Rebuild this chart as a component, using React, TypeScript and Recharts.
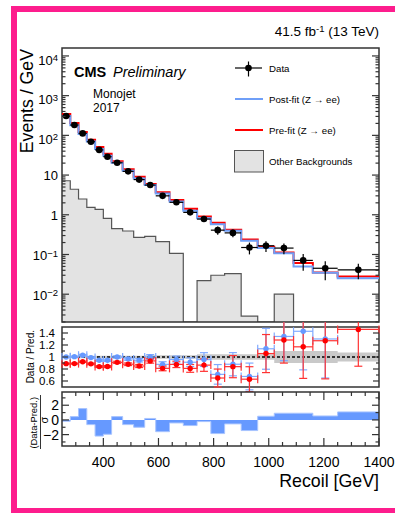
import React from 'react';
import {
  ComposedChart, Line, Area, Scatter, ErrorBar, XAxis, YAxis, ReferenceLine, ReferenceArea,
} from 'recharts';

// ---------------- data ----------------
const binEdges = [250, 280, 310, 340, 370, 400, 430, 470, 510, 550, 590, 640, 690, 740, 790, 840, 900, 960, 1020, 1090, 1160, 1250, 1400];
const dataYield = [306, 182, 112, 69, 43, 29, 20.4, 12.4, 7.7, 5.6, 3.0, 2.06, 1.15, 0.78, 0.41, 0.35, 0.15, 0.166, 0.145, 0.071, 0.045, 0.041];
const dataRelErr = [0.008, 0.01, 0.012, 0.015, 0.018, 0.02, 0.02, 0.025, 0.03, 0.04, 0.05, 0.06, 0.08, 0.12, 0.23, 0.22, 0.33, 0.3, 0.3, 0.45, 0.5, 0.42];
const postFitYield = [306, 181, 108.7, 69.7, 45.5, 30.7, 20.4, 12.8, 8.14, 5.6, 3.42, 2.15, 1.26, 0.815, 0.577, 0.398, 0.222, 0.146, 0.108, 0.0497, 0.0346, 0.0253];
const preFitYield = [344, 204.5, 121.7, 77.9, 51.2, 34.5, 22.4, 14.1, 9.06, 5.99, 3.7, 2.35, 1.42, 0.902, 0.631, 0.417, 0.238, 0.157, 0.113, 0.0607, 0.0354, 0.0281];
const otherBkgYield = [7.2, 4.4, 2.5, 1.53, 1.37, 0.81, 0.45, 0.39, 0.27, 0.285, 0.21, 0.107, 0, 0.022, 0.03, 0.033, 0.0028, 0, 0.01, 0, 0, 0];
const pullValues = [-0.18, 0.45, 1.54, -0.64, -2.2, -1.95, 0.45, -0.64, -1.0, 0.2, -1.6, -0.41, -0.77, -0.23, -1.86, -0.54, -1.45, 0.5, 0.91, 0.91, 0.54, 1.09];
const ratioBandHalfWidth = [0.02, 0.02, 0.02, 0.02, 0.02, 0.02, 0.02, 0.02, 0.02, 0.03, 0.03, 0.03, 0.03, 0.045, 0.045, 0.045, 0.045, 0.045, 0.1, 0.1, 0.1, 0.075];

const xMajorTicks = [400, 600, 800, 1000, 1200, 1400];
const xMinorTicks = [300, 350, 450, 500, 550, 650, 700, 750, 850, 900, 950, 1050, 1100, 1150, 1250, 1300, 1350];
const mainYMajorTicks = [0.01, 0.1, 1, 10, 100, 1000, 10000];
const mainYMajorLabels = [['10', '\u22122'], ['10', '\u22121'], ['1', ''], ['10', ''], ['10', '2'], ['10', '3'], ['10', '4']];
const ratioYMajorTicks = [0.6, 0.8, 1, 1.2, 1.4];
const ratioYMajorLabels = ['0.6', '0.8', '1', '1.2', '1.4'];
const ratioYMinorTicks = [0.7, 0.9, 1.1, 1.3];
const pullYMajorTicks = [-2, 0, 2];
const pullYMajorLabels = ['\u22122', '0', '2'];
const pullYMinorTicks = [-3, -1, 1, 3];

// ---------------- layout constants ----------------
const FONT = '"Liberation Sans", Arial, Helvetica, sans-serif';
const W = 395;
const PL = 62;
const PR = 379;
const XMIN = 250;
const XMAX = 1400;
const YMIN = Math.pow(10, -2.7);
const YMAX = Math.pow(10, 4.2);
const RMIN = 0.5;
const RMAX = 1.5;
const PMIN = -3.55;
const PMAX = 3.8;
const AX = '#333';
const BLUE = '#6f9ff8';
const RED = '#ff0000';

const xTicks = [...xMajorTicks, ...xMinorTicks].sort((a, b) => a - b);
const mainYMinorTicks: number[] = [];
[0.001, 0.01, 0.1, 1, 10, 100, 1000].forEach((d) => {
  [2, 3, 4, 5, 6, 7, 8, 9].forEach((m) => {
    const v = d * m;
    if (v >= YMIN && v <= YMAX) mainYMinorTicks.push(v);
  });
});
const mainYTicks = [...mainYMajorTicks, ...mainYMinorTicks];

// ---------------- derived tables ----------------
const stepTable = (vals: number[], floor?: number) =>
  binEdges.map((e, i) => {
    const v = vals[Math.min(i, vals.length - 1)];
    return { x: e, y: floor !== undefined && v <= 0 ? floor : v };
  });

const otherTable = stepTable(otherBkgYield, YMIN);
const postTable = stepTable(postFitYield);
const preTable = stepTable(preFitYield);
const pullTable = stepTable(pullValues);
const bandTable = binEdges.map((e, i) => {
  const h = ratioBandHalfWidth[Math.min(i, ratioBandHalfWidth.length - 1)];
  return { x: e, y: [1 - h, 1 + h] };
});

const center = (i: number) => (binEdges[i] + binEdges[i + 1]) / 2;
const halfW = (i: number) => (binEdges[i + 1] - binEdges[i]) / 2;

const dataPoints = dataYield.map((v, i) => ({ x: center(i), y: v, ex: halfW(i), ey: v * dataRelErr[i] }));
const ratioPoints = (pred: number[]) =>
  dataYield
    .map((v, i) => {
      const r = v / pred[i];
      return { x: center(i), y: r, ex: halfW(i), ey: r * dataRelErr[i] };
    })
    .filter((p) => p.y >= RMIN && p.y <= RMAX);
const bluePoints = ratioPoints(postFitYield);
const redPoints = ratioPoints(preFitYield);

// ---------------- tick renderers ----------------
const makeXTick = (top: number, bottom: number, majLen: number, minLen: number, withLabel: boolean) => (props: any) => {
  const { x, payload } = props;
  const v = payload.value;
  const major = xMajorTicks.includes(v);
  const len = major ? majLen : minLen;
  return (
    <g>
      <line x1={x} x2={x} y1={bottom} y2={bottom - len} stroke={AX} strokeWidth={1.2} />
      <line x1={x} x2={x} y1={top} y2={top + len} stroke={AX} strokeWidth={1.2} />
      {withLabel && major ? (
        <text x={x} y={bottom + 21} textAnchor="middle" fontSize={14} fill="#000" fontFamily={FONT}>{v}</text>
      ) : null}
    </g>
  );
};

const mainYTick = (props: any) => {
  const { y, payload } = props;
  const v = payload.value;
  const idx = mainYMajorTicks.indexOf(v);
  const major = idx >= 0;
  const len = major ? 7 : 3.5;
  let label = null;
  if (major) {
    const [base, exp] = mainYMajorLabels[idx];
    const off = exp === '' ? 5 : exp.startsWith('\u2212') ? 6 : 8.8;
    label = (
      <text x={58} y={y + off} textAnchor="end" fontSize={13} fill="#000" fontFamily={FONT}>
        {base}
        {exp ? <tspan dy={-3.8} fontSize={9.5}>{exp}</tspan> : null}
      </text>
    );
  }
  return (
    <g>
      <line x1={PL} x2={PL + len} y1={y} y2={y} stroke={AX} strokeWidth={1.2} />
      <line x1={PR - len} x2={PR} y1={y} y2={y} stroke={AX} strokeWidth={1.2} />
      {label}
    </g>
  );
};

const makeLinYTick = (majors: number[], labels: string[], labelRight: number, fontSize: number, majLen: number, minLen: number) => (props: any) => {
  const { y, payload } = props;
  const v = payload.value;
  const idx = majors.indexOf(v);
  const major = idx >= 0;
  const len = major ? majLen : minLen;
  return (
    <g>
      <line x1={PL} x2={PL + len} y1={y} y2={y} stroke={AX} strokeWidth={1.2} />
      <line x1={PR - len} x2={PR} y1={y} y2={y} stroke={AX} strokeWidth={1.2} />
      {major ? (
        <text x={labelRight} y={y + fontSize * 0.36} textAnchor="end" fontSize={fontSize} fill="#000" fontFamily={FONT}>{labels[idx]}</text>
      ) : null}
    </g>
  );
};

const dot = (r: number, color: string) => (p: any) => (
  <circle cx={p.cx} cy={p.cy} r={r} fill={color} stroke="none" />
);

// ---------------- panels ----------------
function MainPanel() {
  return (
    <ComposedChart width={W} height={330} margin={{ top: 48, right: W - PR, bottom: 8, left: 0 }}>
      <XAxis type="number" dataKey="x" domain={[XMIN, XMAX]} allowDataOverflow ticks={xTicks} interval={0}
        height={0} axisLine={false} tickLine={false} tickSize={0} tick={makeXTick(48, 322, 10, 5, false)} />
      <YAxis type="number" dataKey="y" scale="log" domain={[YMIN, YMAX]} allowDataOverflow ticks={mainYTicks}
        interval={0} width={PL} axisLine={false} tickLine={false} tickSize={0} tick={mainYTick} />
      <Area data={otherTable} dataKey="y" type="stepAfter" baseValue={YMIN} fill="#e3e3e3" fillOpacity={1}
        stroke="#555" strokeWidth={1.2} isAnimationActive={false} />
      <Line data={preTable} dataKey="y" type="stepAfter" stroke={RED} strokeWidth={2} dot={false} isAnimationActive={false} />
      <Line data={postTable} dataKey="y" type="stepAfter" stroke={BLUE} strokeWidth={2} dot={false} isAnimationActive={false} />
      <Scatter data={dataPoints} dataKey="y" fill="#000" shape={dot(3.3, '#000')} isAnimationActive={false}>
        <ErrorBar dataKey="ey" direction="y" width={0} stroke="#000" strokeWidth={1.2} />
        <ErrorBar dataKey="ex" direction="x" width={0} stroke="#000" strokeWidth={1.2} />
      </Scatter>
      <ReferenceArea x1={XMIN} x2={XMAX} y1={YMIN} y2={YMAX} fill="none" fillOpacity={0} stroke={AX} strokeWidth={1.5} ifOverflow="visible" />
    </ComposedChart>
  );
}

function RatioPanel() {
  return (
    <ComposedChart width={W} height={70} margin={{ top: 5, right: W - PR, bottom: 5, left: 0 }}>
      <XAxis type="number" dataKey="x" domain={[XMIN, XMAX]} allowDataOverflow ticks={xTicks} interval={0}
        height={0} axisLine={false} tickLine={false} tickSize={0} tick={makeXTick(5, 65, 7, 3.5, false)} />
      <YAxis type="number" dataKey="y" domain={[RMIN, RMAX]} allowDataOverflow ticks={[...ratioYMajorTicks, ...ratioYMinorTicks]}
        interval={0} width={PL} axisLine={false} tickLine={false} tickSize={0}
        tick={makeLinYTick(ratioYMajorTicks, ratioYMajorLabels, 55, 11.5, 6, 3)} />
      <Area data={bandTable} dataKey="y" type="stepAfter" fill="#c9c9c9" fillOpacity={1} stroke="none" isAnimationActive={false} />
      <ReferenceLine y={1} stroke="#333" strokeDasharray="3 2" strokeWidth={2} />
      <Scatter data={bluePoints} dataKey="y" fill={BLUE} shape={dot(2.7, '#6699ff')} isAnimationActive={false}>
        <ErrorBar dataKey="ey" direction="y" width={4} stroke="#80aaff" strokeWidth={1.2} />
        <ErrorBar dataKey="ex" direction="x" width={4} stroke="#80aaff" strokeWidth={1.2} />
      </Scatter>
      <Scatter data={redPoints} dataKey="y" fill={RED} shape={dot(2.7, RED)} isAnimationActive={false}>
        <ErrorBar dataKey="ey" direction="y" width={4} stroke="#ff3333" strokeWidth={1.2} />
        <ErrorBar dataKey="ex" direction="x" width={4} stroke="#ff3333" strokeWidth={1.2} />
      </Scatter>
      <ReferenceArea x1={XMIN} x2={XMAX} y1={RMIN} y2={RMAX} fill="none" fillOpacity={0} stroke={AX} strokeWidth={1.5} ifOverflow="visible" />
    </ComposedChart>
  );
}

function PullPanel() {
  return (
    <ComposedChart width={W} height={125} margin={{ top: 4, right: W - PR, bottom: 37, left: 0 }}>
      <XAxis type="number" dataKey="x" domain={[XMIN, XMAX]} allowDataOverflow ticks={xTicks} interval={0}
        height={30} axisLine={false} tickLine={false} tickSize={0} tick={makeXTick(4, 58, 8, 4, true)} />
      <YAxis type="number" dataKey="y" domain={[PMIN, PMAX]} allowDataOverflow ticks={[...pullYMajorTicks, ...pullYMinorTicks]}
        interval={0} width={PL} axisLine={false} tickLine={false} tickSize={0}
        tick={makeLinYTick(pullYMajorTicks, pullYMajorLabels, 59, 14, 7, 3.5)} />
      <Area data={pullTable} dataKey="y" type="stepAfter" baseValue={0} fill="#6699ff" fillOpacity={1}
        stroke="#a8c4ff" strokeWidth={1} isAnimationActive={false} />
      <ReferenceArea x1={XMIN} x2={XMAX} y1={PMIN} y2={PMAX} fill="none" fillOpacity={0} stroke={AX} strokeWidth={1.5} ifOverflow="visible" />
    </ComposedChart>
  );
}

function Overlay() {
  const t = { fontFamily: FONT, fill: '#000' } as const;
  return (
    <svg width={W} height={513} style={{ position: 'absolute', left: 0, top: 0, pointerEvents: 'none' }}>
      {/* luminosity */}
      <text x={379} y={36} textAnchor="end" fontSize={13.5} {...t}>
        41.5 fb<tspan dy={-4.5} fontSize={9.5}>-1</tspan><tspan dy={4.5}> (13 TeV)</tspan>
      </text>
      <text x={74} y={77} fontSize={14.5} fontWeight="bold" {...t}>CMS</text>
      <text x={113} y={77} fontSize={14.5} fontStyle="italic" {...t}>Preliminary</text>
      <text x={93} y={97.5} fontSize={12} {...t}>Monojet</text>
      <text x={93} y={112} fontSize={12} {...t}>2017</text>
      {/* axis titles */}
      <text transform="translate(33,49) rotate(-90)" textAnchor="end" fontSize={17.7} {...t}>Events / GeV</text>
      <text transform="translate(33.5,330) rotate(-90)" textAnchor="end" fontSize={10} {...t}>Data / Pred.</text>
      <text transform="translate(37,397) rotate(-90)" textAnchor="end" fontSize={9.4} {...t}>(Data-Pred.)</text>
      <line x1={40.5} x2={40.5} y1={395} y2={449} stroke="#000" strokeWidth={0.8} />
      <text transform="translate(47.5,420) rotate(-90)" textAnchor="middle" fontSize={11} {...t}>σ</text>
      <text x={379} y={487} textAnchor="end" fontSize={17.8} {...t}>Recoil [GeV]</text>
      {/* legend */}
      <line x1={235} x2={262} y1={68} y2={68} stroke="#000" strokeWidth={1.2} />
      <line x1={248.5} x2={248.5} y1={61.5} y2={76.5} stroke="#000" strokeWidth={1.2} />
      <circle cx={248.5} cy={68} r={3.3} fill="#000" />
      <text x={269} y={71.5} fontSize={9.7} {...t}>Data</text>
      <line x1={235} x2={263} y1={99} y2={99} stroke={BLUE} strokeWidth={2} />
      <text x={269} y={102.5} fontSize={9.7} {...t}>Post-fit (Z → ee)</text>
      <line x1={235} x2={263} y1={130} y2={130} stroke={RED} strokeWidth={2} />
      <text x={269} y={133.5} fontSize={9.7} {...t}>Pre-fit (Z → ee)</text>
      <rect x={234.5} y={150.5} width={29} height={21.5} fill="#e3e3e3" stroke="#555" strokeWidth={1} />
      <text x={269} y={164.5} fontSize={9.7} {...t}>Other Backgrounds</text>
    </svg>
  );
}

export default function App() {
  return (
    <div style={{ position: 'absolute', left: 0, top: 0, width: W, height: 513, overflow: 'hidden', background: '#fff', fontFamily: FONT }}>
      <div style={{ position: 'absolute', left: 0, top: 0 }}><MainPanel /></div>
      <div style={{ position: 'absolute', left: 0, top: 322 }}><RatioPanel /></div>
      <div style={{ position: 'absolute', left: 0, top: 388 }}><PullPanel /></div>
      <Overlay />
      <div style={{
        position: 'absolute', left: 11, top: 6, width: 420, height: 507, boxSizing: 'border-box',
        borderTop: '6px solid #fd1d8d', borderLeft: '6px solid #fd1d8d', borderBottom: '5px solid #fd1d8d', pointerEvents: 'none',
      }} />
    </div>
  );
}
